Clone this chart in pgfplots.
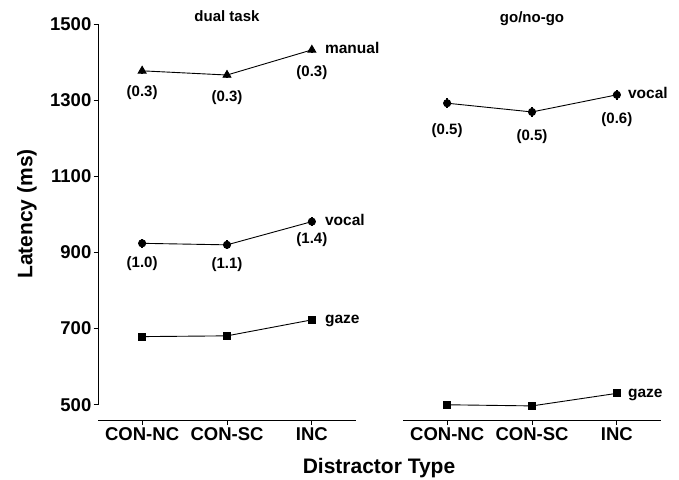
\documentclass[border=0pt]{standalone}
\usepackage{pgfplots}
\pgfplotsset{compat=1.18}
\usepackage{fontspec}
\setmainfont{Liberation Sans}
\begin{document}
\begin{tikzpicture}
\path (0pt,0pt) rectangle (679pt,479pt);
\pgfplotsset{
  panel/.style={
    scale only axis, width=258pt, height=396pt, anchor=south west,
    xmin=-0.52, xmax=2.52, ymin=460, ymax=1500, clip=false,
    xtick={0,1,2}, xticklabels={CON-NC,CON-SC,INC},
    axis x line*=bottom, x axis line style={-, line width=0.9pt},
    xtick pos=bottom, tick align=outside, major tick length=4.5pt,
    tick style={black, line width=0.9pt},
    xticklabel style={font=\fontsize{18.5}{20}\selectfont\bfseries, anchor=north, inner sep=0pt, yshift=-3pt},
    yticklabel style={font=\fontsize{18.5}{20}\selectfont\bfseries, inner sep=2pt},
    /pgf/number format/assume math mode=true,
    /pgf/number format/set thousands separator={},
  },
  ser/.style={black, line width=0.9pt, mark options={solid},
    error bars/.cd, y dir=both, y explicit, error mark=none,
    error bar style={line width=1.6pt}},
}
\tikzset{
  lab/.style={font=\fontsize{15}{17}\selectfont\bfseries, inner sep=0pt},
  sname/.style={font=\fontsize{15.5}{17}\selectfont\bfseries, inner sep=0pt, anchor=base west},
}
% dual task
\begin{axis}[panel, at={(98pt,59pt)},
  axis y line*=left, y axis line style={draw=none}, ytick pos=left,
  ytick={500,700,900,1100,1300,1500}]
\draw[line width=0.9pt] (axis cs:-0.52,500) -- (axis cs:-0.52,1500);
\addplot[mark=triangle*, mark size=4.5pt, ser] coordinates {
  (0,1377) +- (0,9) (1,1366) +- (0,9) (2,1432) +- (0,9)};
\addplot[mark=*, mark size=3.6pt, ser] coordinates {
  (0,924) +- (0,12) (1,920) +- (0,12) (2,981) +- (0,12)};
\addplot[mark=square*, mark size=3.6pt, ser] coordinates {
  (0,679) +- (0,4) (1,681) +- (0,4) (2,723) +- (0,4)};
\node[lab] at (axis cs:0,1377) [yshift=-22pt] {(0.3)};
\node[lab] at (axis cs:1,1366) [yshift=-23pt] {(0.3)};
\node[lab] at (axis cs:2,1432) [yshift=-23pt] {(0.3)};
\node[lab] at (axis cs:0,924) [yshift=-20pt] {(1.0)};
\node[lab] at (axis cs:1,920) [yshift=-20pt] {(1.1)};
\node[lab] at (axis cs:2,981) [yshift=-18pt] {(1.4)};
\node[sname] at (axis cs:2,1432) [xshift=13pt, yshift=-3.5pt] {manual};
\node[sname] at (axis cs:2,981) [xshift=13pt, yshift=-3.5pt] {vocal};
\node[sname] at (axis cs:2,723) [xshift=13pt, yshift=-4pt] {gaze};
\node[font=\fontsize{15}{17}\selectfont\bfseries, anchor=base, inner sep=0pt] at (axis cs:1,1500) [yshift=2.5pt] {dual task};
\end{axis}
% go/no-go
\begin{axis}[panel, at={(403pt,59pt)}, axis y line=none, ytick=\empty]
\addplot[mark=*, mark size=3.6pt, ser] coordinates {
  (0,1292) +- (0,13) (1,1269) +- (0,13) (2,1314) +- (0,13)};
\addplot[mark=square*, mark size=3.6pt, ser] coordinates {
  (0,500) +- (0,4) (1,497) +- (0,4) (2,530) +- (0,4)};
\node[lab] at (axis cs:0,1292) [yshift=-27pt] {(0.5)};
\node[lab] at (axis cs:1,1269) [yshift=-25pt] {(0.5)};
\node[lab] at (axis cs:2,1314) [yshift=-25pt] {(0.6)};
\node[sname] at (axis cs:2,1314) [xshift=11pt, yshift=-3.5pt] {vocal};
\node[sname] at (axis cs:2,530) [xshift=11pt, yshift=-4pt] {gaze};
\node[font=\fontsize{15}{17}\selectfont\bfseries, anchor=base, inner sep=0pt] at (axis cs:1,1500) [yshift=1.5pt] {go/no-go};
\end{axis}
\node[font=\fontsize{21}{24}\selectfont\bfseries, rotate=90, anchor=center] at (27pt,265pt) {Latency (ms)};
\node[font=\fontsize{21}{24}\selectfont\bfseries, anchor=base, inner sep=0pt] at (379pt,6pt) {Distractor Type};
\end{tikzpicture}
\end{document}
